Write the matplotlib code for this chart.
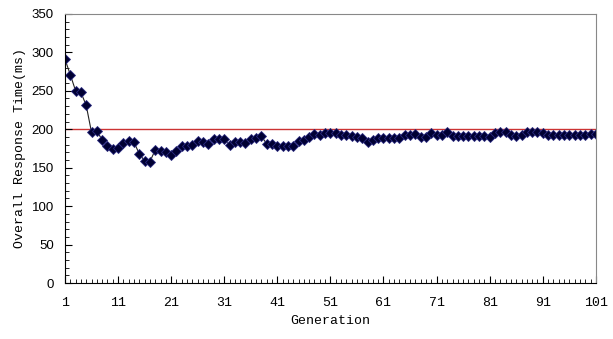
import numpy as np
import matplotlib as mpl
mpl.use('Agg')
import matplotlib.pyplot as plt
from matplotlib.ticker import MultipleLocator, FixedLocator

# response time per generation (ms)
generation = list(range(1, 102))
response = [291, 271, 250, 248, 231, 196, 198, 186, 178, 174,
            175, 182, 185, 183, 168, 159, 158, 173, 172, 171,
            166, 172, 178, 178, 180, 185, 184, 181, 187, 187,
            187, 179, 183, 184, 182, 187, 188, 191, 181, 181,
            178, 178, 178, 178, 185, 186, 190, 194, 193, 195,
            195, 195, 192, 192, 191, 190, 188, 183, 186, 189,
            189, 189, 189, 189, 192, 192, 194, 190, 190, 195,
            192, 193, 196, 191, 191, 191, 191, 191, 191, 191,
            190, 195, 196, 196, 192, 191, 192, 196, 196, 196,
            195, 192, 192, 192, 192, 192, 192, 192, 193, 194,
            194]
threshold = 200
xtick_labels = [1, 11, 21, 31, 41, 51, 61, 71, 81, 91, 101]

fig = plt.figure(figsize=(6.13, 3.39), dpi=100)
ax = fig.add_axes([0.106, 0.165, 0.866, 0.794])

ax.axhline(threshold, color='#CC3333', lw=1.0, zorder=1)
ax.plot(generation, response, color='#222222', lw=0.8,
        marker='D', markersize=4.8, markerfacecolor='#000033',
        markeredgecolor='#2a2a80', markeredgewidth=0.6, zorder=2)

ax.set_xlim(1, 101)
ax.set_ylim(0, 350)
ax.xaxis.set_major_locator(FixedLocator(xtick_labels))
ax.xaxis.set_minor_locator(MultipleLocator(1))
ax.yaxis.set_major_locator(MultipleLocator(50))
ax.yaxis.set_minor_locator(MultipleLocator(10))

ax.tick_params(axis='x', which='major', direction='in', length=5, width=0.8,
               pad=10, labelsize=9.5)
ax.tick_params(axis='x', which='minor', direction='in', length=3, width=0.6)
ax.tick_params(axis='y', which='major', direction='in', length=5, width=0.8,
               labelsize=9.5, pad=8)
ax.tick_params(axis='y', which='minor', direction='in', length=3, width=0.6)

for lab in ax.get_xticklabels():
    lab.set_fontfamily('Liberation Mono')
for lab in ax.get_yticklabels():
    lab.set_fontfamily('Liberation Sans')

for s in ['top', 'right']:
    ax.spines[s].set_color('#888888')
for s in ['left', 'bottom']:
    ax.spines[s].set_color('black')

ax.set_xlabel('Generation', family='Liberation Mono', fontsize=9.5, labelpad=4)
ax.set_ylabel('Overall Response Time(ms)', family='Liberation Mono',
              fontsize=9.5, labelpad=4)

fig.savefig('out.png', dpi=100)
